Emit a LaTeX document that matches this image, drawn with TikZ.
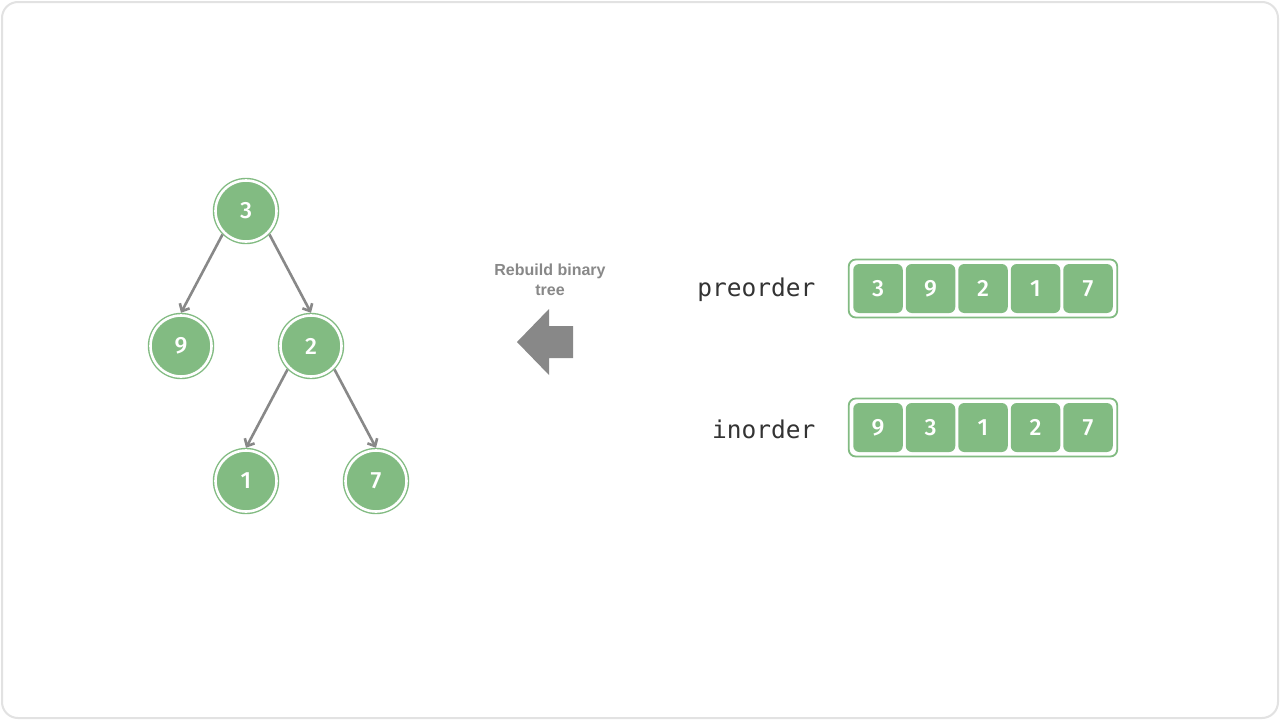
\documentclass[tikz,border=0pt]{standalone}
\usepackage{fontspec}
\setmainfont{Noto Sans}
\newfontface\numfont{Fira Sans Medium}
\newfontfamily\labelfont{Liberation Sans}
\newfontfamily\codefont{DejaVu Sans Mono}
\usetikzlibrary{arrows.meta,fit}
\definecolor{nodegreen}{HTML}{82BB82}
\definecolor{edgegray}{HTML}{888888}
\definecolor{framegray}{HTML}{E2E2E2}
\definecolor{codegray}{HTML}{333333}
\tikzset{
  treenode/.style={circle, fill=nodegreen, draw=nodegreen, double=white,
    double distance=2.6pt, line width=1.4pt, minimum size=61pt, inner sep=0pt,
    outer sep=2.7pt, text=white, font=\numfont\fontsize{23.5}{23.5}\selectfont},
  treeedge/.style={draw=edgegray, line width=2.6pt,
    -{Straight Barb[length=6pt,width=11pt,line width=2.6pt]}},
  cell/.style={rectangle, rounded corners=6pt, fill=nodegreen, minimum width=49.5pt,
    minimum height=49pt, inner sep=0pt, text=white, font=\numfont\fontsize{23.5}{23.5}\selectfont},
  arraybox/.style={draw=nodegreen, line width=1.8pt, rounded corners=7pt, inner sep=4.3pt},
  codelabel/.style={anchor=east, text=codegray, font=\codefont\fontsize{24.5}{24.5}\selectfont},
  hint/.style={text=edgegray, align=center, font=\labelfont\bfseries\fontsize{16}{20}\selectfont}
}
\begin{document}
\begin{tikzpicture}[x=1pt,y=-1pt]
\useasboundingbox (0,0) rectangle (1280,720);
\fill[white] (0,0) rectangle (1280,720);
\draw[framegray, line width=2pt, rounded corners=16pt] (2,2) rectangle (1278,718);

% tree
\node[treenode] (n3) at (246,211) {3};
\node[treenode] (n9) at (181,346) {9};
\node[treenode] (n2) at (311,346) {2};
\node[treenode] (n1) at (246,481) {1};
\node[treenode] (n7) at (376,481) {7};
\draw[treeedge] (n3.south west) -- (n9.north);
\draw[treeedge] (n3.south east) -- (n2.north);
\draw[treeedge] (n2.south west) -- (n1.north);
\draw[treeedge] (n2.south east) -- (n7.north);

% hint and big arrow
\node[hint] (hint) at (550,280) {Rebuild binary\\tree};
\fill[edgegray] (517,342) -- (549,309) -- (549,326) -- (573,326) -- (573,358)
  -- (549,358) -- (549,375) -- cycle;

% arrays
\node[codelabel] (pre) at (819,290) {preorder};
\node[codelabel] (ino) at (819,429) {inorder};
\foreach \v [count=\i] in {3,9,2,1,7} {
  \node[cell] (p\i) at ({878+52.5*(\i-1)},288.5) {\v};
}
\foreach \v [count=\i] in {9,3,1,2,7} {
  \node[cell] (q\i) at ({878+52.5*(\i-1)},427.5) {\v};
}
\node[arraybox, fit=(p1)(p5)] (parr) {};
\node[arraybox, fit=(q1)(q5)] (qarr) {};
\end{tikzpicture}
\end{document}
